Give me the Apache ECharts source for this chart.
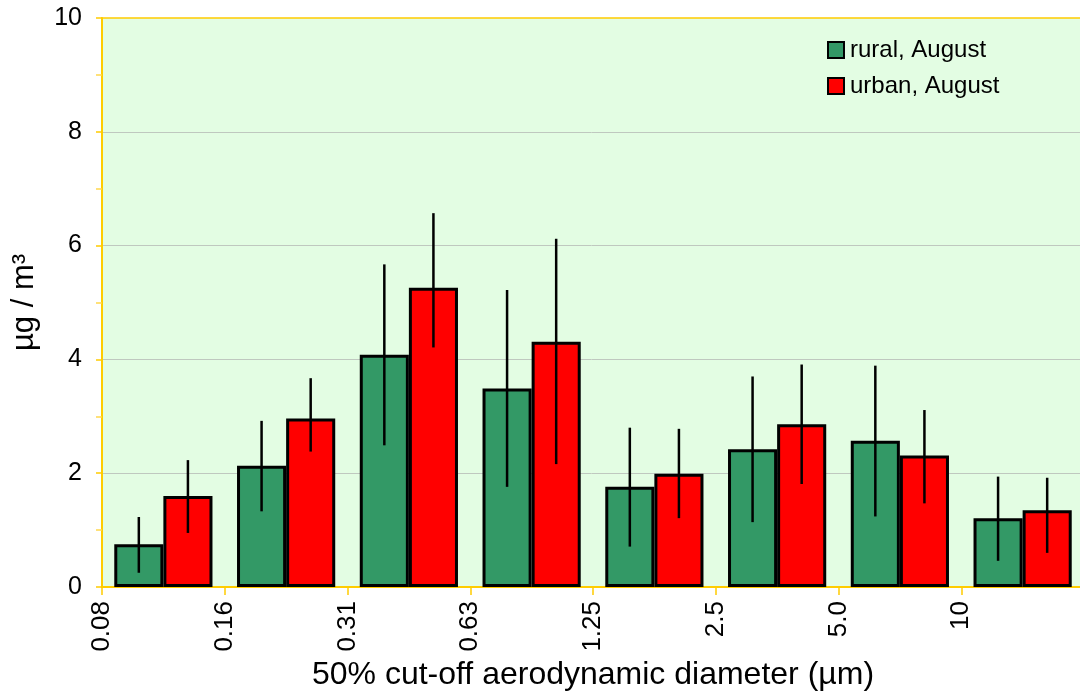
<!DOCTYPE html>
<html>
<head>
<meta charset="utf-8">
<title>Size-resolved mass concentration, August</title>
<script src="https://cdn.jsdelivr.net/npm/echarts@6/dist/echarts.min.js"></script>
<style>
  html, body { margin: 0; padding: 0; background: #ffffff; }
  #chart { width: 1080px; height: 695px; }
</style>
</head>
<body>
<div id="chart"></div>
<script>
// Impactor stage boundaries (50% cut-off diameters, µm)
const cutOffLabels = ['0.08', '0.16', '0.31', '0.63', '1.25', '2.5', '5.0', '10'];
// One category per impactor stage
const stages = ['S1', 'S2', 'S3', 'S4', 'S5', 'S6', 'S7', 'S8'];

// Mean mass concentration per stage (µg/m³)
const rural = [0.75, 2.13, 4.08, 3.49, 1.76, 2.42, 2.57, 1.21];
const urban = [1.60, 2.96, 5.26, 4.31, 1.99, 2.86, 2.31, 1.35];

// Variability range per stage (low / high, µg/m³)
const ruralLow  = [0.25, 1.33, 2.49, 1.76, 0.71, 1.14, 1.24, 0.46];
const ruralHigh = [1.23, 2.92, 5.67, 5.22, 2.80, 3.70, 3.89, 1.94];
const urbanLow  = [0.95, 2.38, 4.21, 2.16, 1.21, 1.81, 1.47, 0.60];
const urbanHigh = [2.23, 3.67, 6.57, 6.12, 2.78, 3.91, 3.11, 1.92];

const yTicks = [0, 2, 4, 6, 8, 10];

const FONT = "'Liberation Sans', Arial, sans-serif";
const CATEGORY_GAP = 0.2;
const AXIS_YELLOW = '#FFCC00';

function rangeData(low, high) {
  return low.map((lo, i) => [i, lo, high[i]]);
}

// Vertical range line centred on the bar of one series within its group
function rangeRenderer(side) {
  return function (params, api) {
    const idx = api.value(0);
    const lo = api.coord([idx, api.value(1)]);
    const hi = api.coord([idx, api.value(2)]);
    const band = api.size([1, 0])[0];
    const barW = band * (1 - CATEGORY_GAP) / 2;
    const x = lo[0] + side * barW / 2;
    return {
      type: 'line',
      shape: { x1: x, y1: lo[1], x2: x, y2: hi[1] },
      style: { stroke: '#000000', lineWidth: 2.5 }
    };
  };
}

const chart = echarts.init(document.getElementById('chart'), null, { renderer: 'canvas' });

chart.setOption({
  animation: false,
  backgroundColor: '#ffffff',
  textStyle: { fontFamily: FONT },
  grid: {
    left: 102, top: 18, right: -4, bottom: 108,
    show: true,
    backgroundColor: '#E3FDE3',
    borderColor: AXIS_YELLOW,
    borderWidth: 1.5,
    containLabel: false,
    outerBoundsMode: 'none'
  },
  legend: {
    orient: 'vertical',
    left: 827, top: 38,
    padding: 0,
    itemWidth: 16, itemHeight: 16,
    itemGap: 12,
    icon: 'rect',
    textStyle: { fontSize: 24, lineHeight: 24, color: '#000000', fontFamily: FONT, padding: [0, 0, 0, 1] },
    data: ['rural, August', 'urban, August']
  },
  xAxis: [
    {
      type: 'category',
      data: stages,
      position: 'bottom',
      axisLine: { show: true, lineStyle: { color: AXIS_YELLOW, width: 2 } },
      axisTick: { show: false },
      axisLabel: { show: false },
      splitLine: { show: false }
    },
    {
      type: 'value',
      position: 'bottom',
      min: 0, max: 8, interval: 1,
      axisLine: { show: false },
      axisTick: { show: true, inside: false, length: 8, lineStyle: { color: AXIS_YELLOW, width: 1.5 } },
      axisLabel: {
        show: true,
        rotate: 90,
        margin: 14,
        fontSize: 26,
        color: '#000000',
        fontFamily: FONT,
        formatter: v => (cutOffLabels[v] !== undefined ? cutOffLabels[v] : '')
      },
      splitLine: { show: false },
      name: '50% cut-off aerodynamic diameter (µm)',
      nameLocation: 'middle',
      nameGap: 62,
      nameTextStyle: { fontSize: 32, color: '#000000', fontFamily: FONT }
    }
  ],
  yAxis: {
    type: 'value',
    min: yTicks[0], max: yTicks[yTicks.length - 1], interval: 2,
    axisLine: { show: true, lineStyle: { color: AXIS_YELLOW, width: 2 } },
    axisTick: { show: true, inside: false, length: 6, lineStyle: { color: AXIS_YELLOW, width: 1.5 } },
    minorTick: { show: true, splitNumber: 2, length: 6, lineStyle: { color: '#FFD84D', width: 1.5 } },
    axisLabel: { margin: 20, fontSize: 25, color: '#000000', fontFamily: FONT },
    splitLine: { show: true, showMinLine: false, showMaxLine: false, lineStyle: { color: '#BFC8BF', width: 1 } },
    name: 'µg / m³',
    nameLocation: 'middle',
    nameRotate: 90,
    nameGap: 62,
    nameTextStyle: { fontSize: 31, color: '#000000', fontFamily: FONT }
  },
  series: [
    {
      name: 'rural, August',
      type: 'bar',
      xAxisIndex: 0,
      data: rural,
      barGap: '0%',
      barCategoryGap: (CATEGORY_GAP * 100) + '%',
      itemStyle: { color: '#339966', borderColor: '#000000', borderWidth: 3 },
      z: 2
    },
    {
      name: 'urban, August',
      type: 'bar',
      xAxisIndex: 0,
      data: urban,
      barGap: '0%',
      barCategoryGap: (CATEGORY_GAP * 100) + '%',
      itemStyle: { color: '#FF0000', borderColor: '#000000', borderWidth: 3 },
      z: 2
    },
    {
      name: 'rural range',
      type: 'custom',
      xAxisIndex: 0,
      data: rangeData(ruralLow, ruralHigh),
      encode: { x: 0, y: [1, 2] },
      renderItem: rangeRenderer(-1),
      z: 5
    },
    {
      name: 'urban range',
      type: 'custom',
      xAxisIndex: 0,
      data: rangeData(urbanLow, urbanHigh),
      encode: { x: 0, y: [1, 2] },
      renderItem: rangeRenderer(1),
      z: 5
    }
  ]
});
</script>
</body>
</html>
